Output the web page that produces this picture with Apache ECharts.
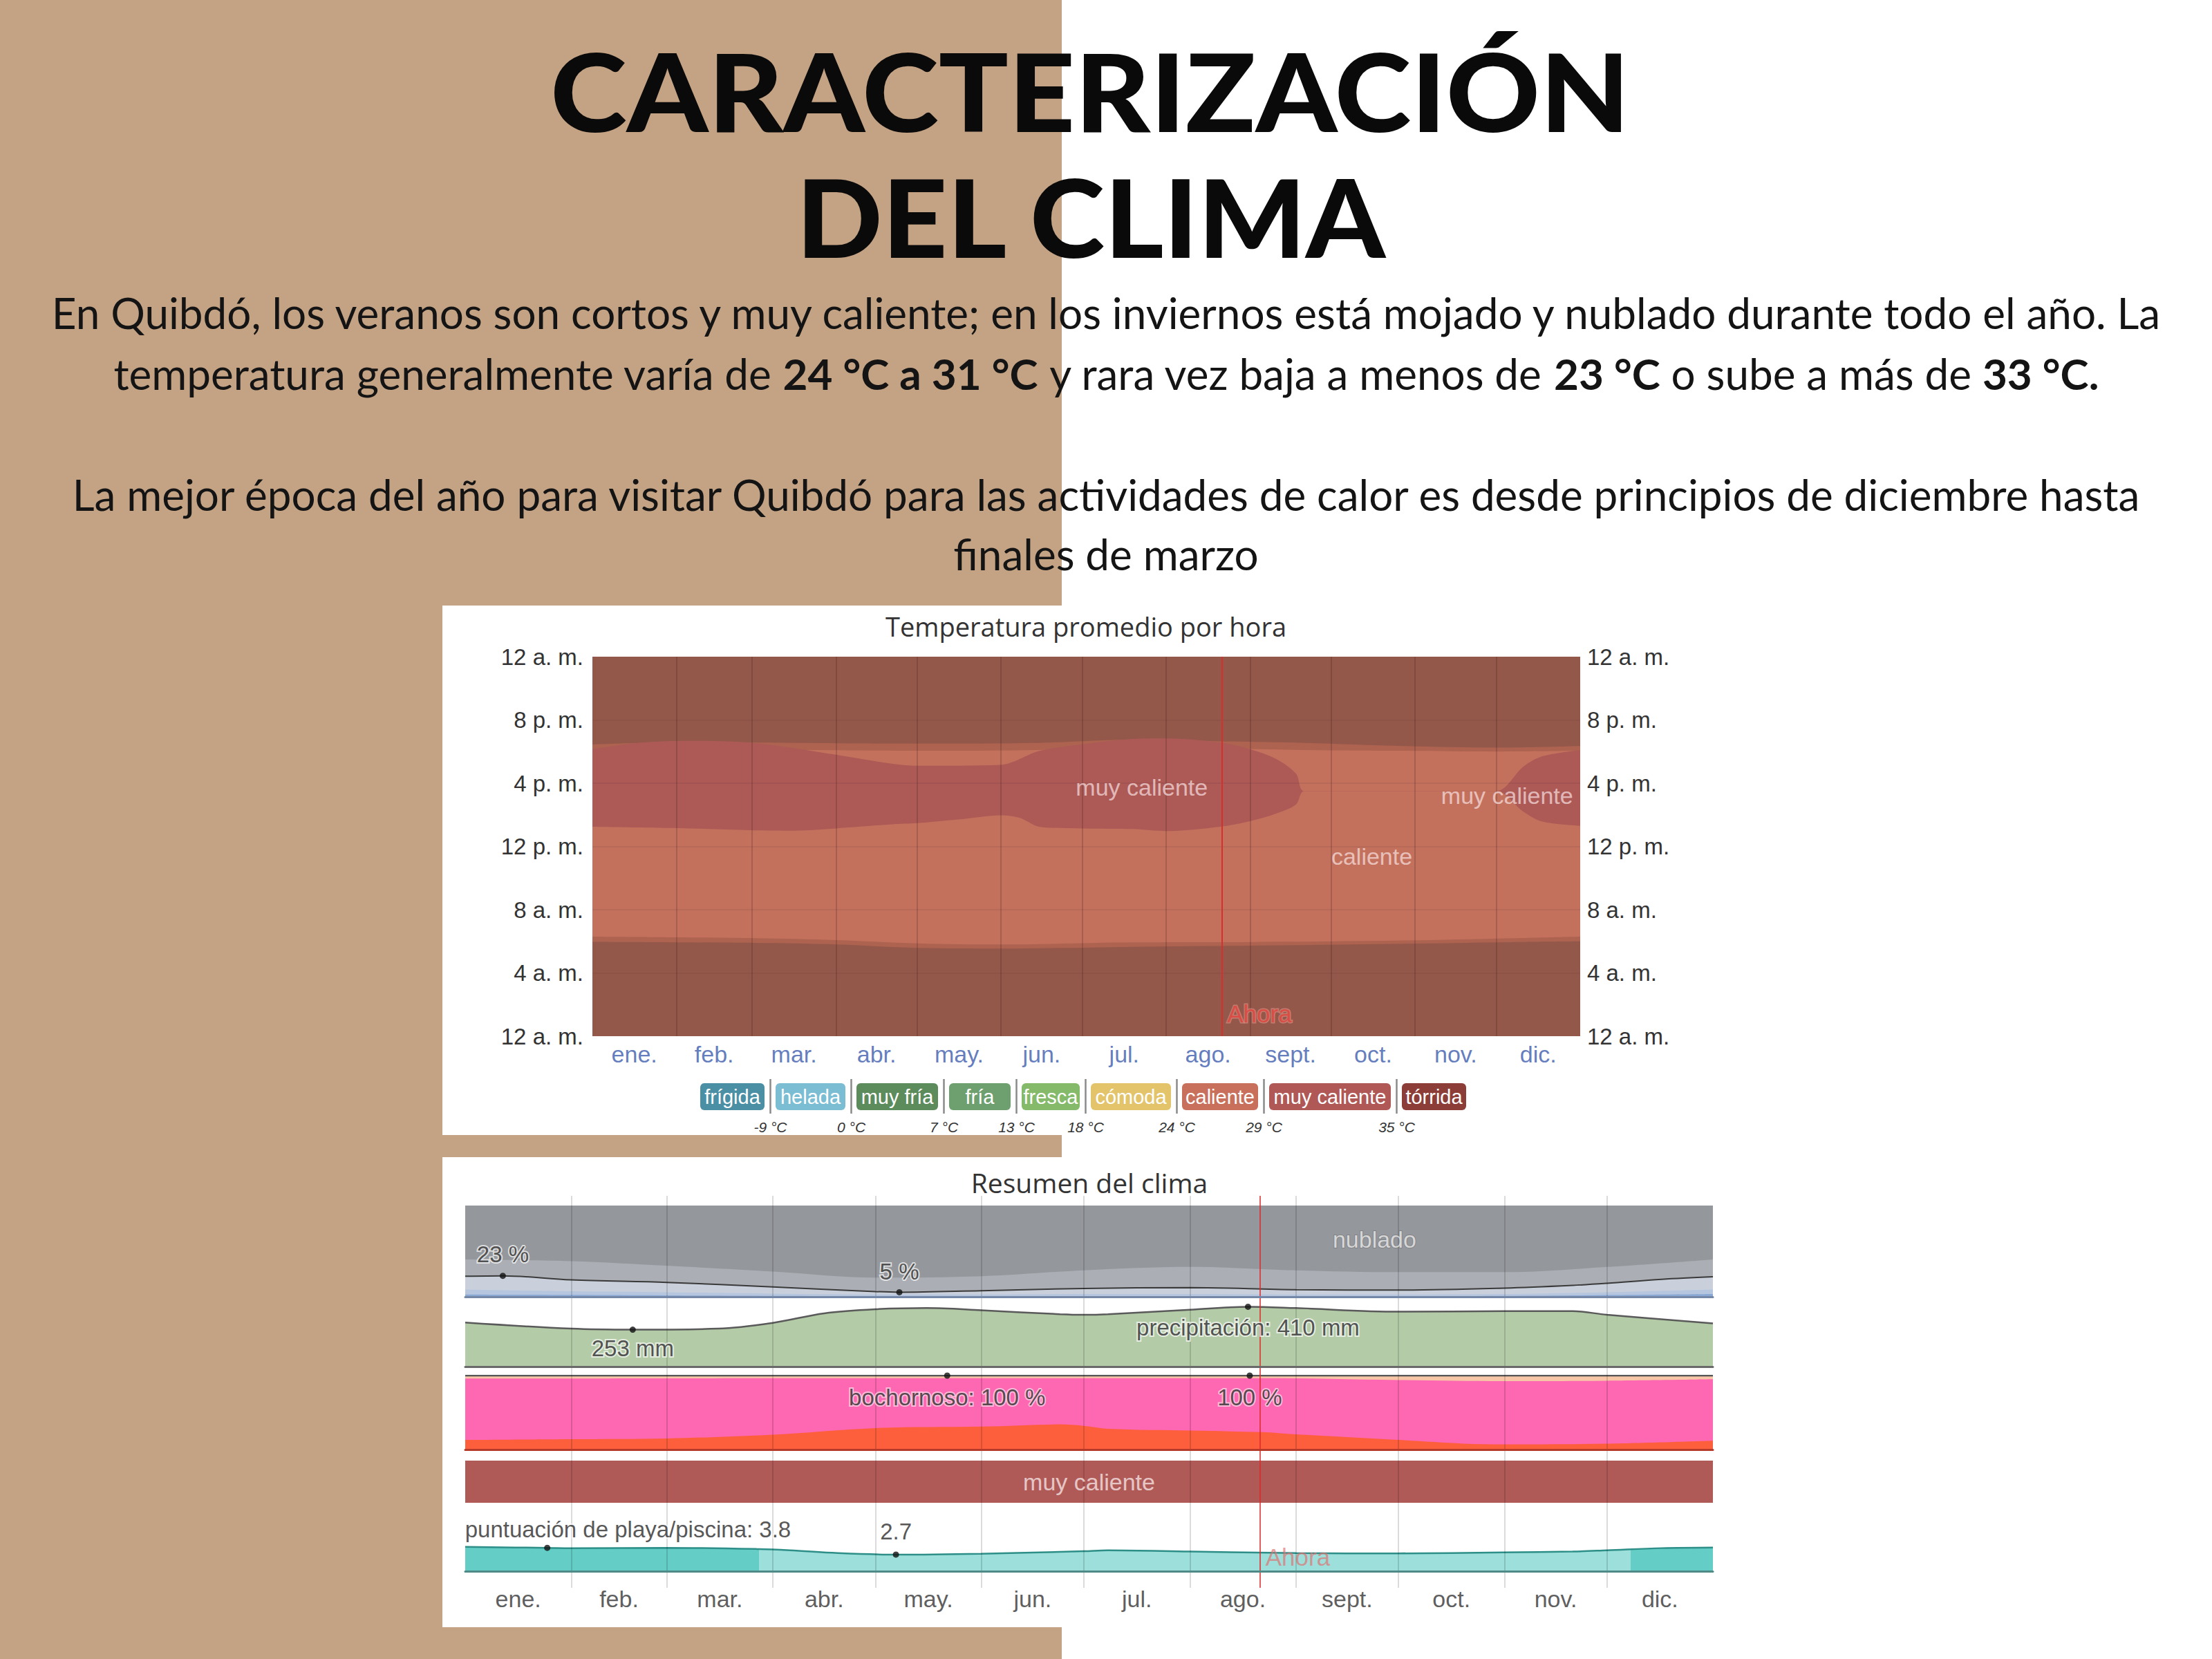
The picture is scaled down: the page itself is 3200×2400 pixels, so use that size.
<!DOCTYPE html>
<html><head><meta charset="utf-8">
<script src="https://cdn.jsdelivr.net/npm/echarts@6/dist/echarts.min.js"></script>
<style>html,body{margin:0;padding:0;background:#fff}#c{width:3200px;height:2400px}</style>
</head><body><div id="c"></div><script>
// ---------------- DATA ----------------
const months = ['ene.','feb.','mar.','abr.','may.','jun.','jul.','ago.','sept.','oct.','nov.','dic.'];
const monthStartDays = [0,31,59,90,120,151,181,212,243,273,304,334,365];
const hourLabels = ['12 a. m.','4 a. m.','8 a. m.','12 p. m.','4 p. m.','8 p. m.','12 a. m.'];
const nowDay = 232.5;

// Temperatura promedio por hora: band boundaries [day, hour]
const nightFull = [[0,24],[365,24]];
const duskEnd = [[0,18.45],[36,18.6],[75,18.55],[120,18.5],[165,18.55],[200,18.75],[232,18.65],[263,18.55],[300,18.35],[334,18.25],[365,18.35]];
const duskStart = [[0,18.1],[75,18.1],[120,18.05],[165,18.1],[200,18.3],[232,18.2],[263,18.1],[300,18.05],[334,18.0],[365,18.05]];
const hotTop = [[0,18.15],[18,18.57],[36,18.68],[58,18.57],[75,18.2],[90,17.8],[111,17.22],[120,17.1],[151,17.16],[165,18.03],[181,18.46],[200,18.8],[212,18.83],[232,18.57],[243,18.15],[253,17.5],[260,16.6],[263,15.5],[334,15.5],[344,17.05],[351,17.7],[365,18.1]];
const hotBottom = [[0,13.25],[18,13.2],[36,13.14],[58,13.03],[75,13.0],[90,13.14],[111,13.4],[120,13.47],[135,13.7],[151,13.97],[158,13.8],[165,13.25],[181,13.14],[200,13.1],[212,12.97],[232,13.25],[243,13.6],[253,14.1],[260,14.66],[263,15.5],[334,15.5],[344,14.2],[351,13.57],[365,13.3]];
const dawnEnd = [[0,6.3],[60,6.2],[90,6.08],[120,5.87],[150,5.8],[200,5.93],[240,5.95],[300,6.05],[340,6.2],[365,6.3]];
const dawnStart = [[0,5.97],[60,5.9],[90,5.8],[120,5.58],[150,5.54],[200,5.65],[240,5.72],[300,5.85],[340,5.95],[365,6.0]];
const tempChartNotes = [[203,15.74,'muy caliente'],[288,11.37,'caliente'],[338,15.2,'muy caliente']];

const legendNames = ['frígida','helada','muy fría','fría','fresca','cómoda','caliente','muy caliente','tórrida'];
const legendThresholds = ['-9 °C','0 °C','7 °C','13 °C','18 °C','24 °C','29 °C','35 °C'];

// Resumen del clima: cloud cover cumulative % [day, %]
const cloudOvercast = [[0,100],[365,100]];
const cloudMostlyCloudy = [[0,41],[31,39],[59,34],[90,27.6],[120,21],[151,22.6],[181,29],[212,32.7],[243,29],[273,27],[304,27],[334,32.7],[365,41]];
const cloudPartly = [[0,22.6],[11,23],[31,18.5],[59,15.8],[90,10.8],[120,5.7],[127,5],[151,6.7],[181,9.1],[212,10.1],[243,7.8],[273,7.4],[304,9.5],[324,12.5],[334,14.8],[350,19.2],[365,22]];
const cloudMostlyClear = [[0,8],[31,6],[59,5],[90,3.5],[120,2.5],[151,2.5],[181,3],[212,3],[243,2.5],[273,2.5],[304,3],[334,5],[365,8]];
const cloudClear = [[0,2.5],[31,2],[59,1.5],[90,1],[120,0.8],[151,0.8],[181,0.8],[212,0.8],[243,0.8],[273,0.8],[304,1],[334,1.8],[365,3]];
const cloudNotes = [[11,23,'23 %'],[127,5,'5 %']];
const cloudLabel = [[266,63,'nublado']];

// precipitation mm [day, mm]
const precip = [[0,302],[31,260],[49,253],[74,260],[90,300],[105,365],[120,393],[135,401],[151,386],[174,359],[181,355],[188,359],[212,390],[229,410],[243,401],[273,376],[304,380],[324,380],[334,355],[365,296]];
const precipNotes = [[49,253,'253 mm'],[229,410,'precipitación: 410 mm']];

// humidity cumulative % [day, %]
const humidMuggy = [[0,100],[365,100]];
const humidOppressive = [[0,96],[120,96.5],[233,96.5],[273,94],[304,92.5],[334,93],[365,95]];
const humidMiserable = [[0,13],[31,14],[59,15],[90,20],[120,29],[151,31],[174,34],[181,32],[188,28],[212,25.6],[233,23.5],[243,20.5],[273,13],[292,8],[304,7],[334,8],[365,12]];
const humidNotes = [[141,100,'bochornoso: 100 %'],[229.5,100,'100 %']];

// temperature category band
const tempBand = [[0,1],[365,1]];
const tempBandLabel = [[182.5,0.5,'muy caliente']];

// beach / pool score [day, score]
const beachScore = [[0,3.95],[24,3.8],[31,3.75],[59,3.8],[86,3.6],[95,3.4],[109,2.95],[126,2.7],[151,2.85],[181,3.25],[188,3.4],[212,3.2],[243,2.95],[273,2.9],[304,3.05],[324,3.2],[334,3.4],[350,3.75],[365,3.85]];
const bestPeriods = [[0,86],[341,365]];
const beachNotes = [[24,3.8,'puntuación de playa/piscina: 3.8'],[126,2.7,'2.7']];
const ahoraTempHour = 1.4;
const ahoraBeachScore = 2.25;

// ---------------- STYLE ----------------
const FONT = 'Liberation Sans, Arial, sans-serif';
const C = {
  night:'#94584a', twilight:'#ad6350', hot:'#c3715d', veryHot:'#ad5a57',
  overcast:'#94979c', mostlyCloudy:'#abaeb4', partly:'#c9d0db', mostlyClear:'#b6c6de', clear:'#8aa8d4',
  precip:'#b4cba8', muggy:'#f6c6a6', oppressive:'#fe67b1', miserable:'#fd5f3c', band:'#b05a58',
  beachDark:'#64cdc6', beachLight:'#9de0db'
};
const legendColors = ['#4b8fa5','#7bbdd2','#5c8b5c','#6e9f6e','#85ba6a','#e3c46b','#c9705c','#b05856','#8d3d37'];
const pillWidths = [93,101,118,89,84,116,110,176,93];

const grids = [
  {left:857, top:950, width:1429, height:549},
  {left:857, top:1505, width:1429, height:40},
  {left:673, top:1730, width:1805, height:567},
  {left:673, top:1744, width:1805, height:132},
  {left:673, top:1882, width:1805, height:95},
  {left:673, top:1990, width:1805, height:107},
  {left:673, top:2113, width:1805, height:61},
  {left:673, top:2184, width:1805, height:89},
  {left:673, top:2295, width:1805, height:36}
];
const yi = g => g === 0 ? 0 : g + 1;
const borderColors = {3:'#7487a6', 4:'#6a6a6a', 5:'#b63a2a', 7:'#4f8a86'};

const xAxis = grids.map((g,i)=>({
  type:'value', gridIndex:i, min:0, max:365, z:10,
  show: borderColors[i] !== undefined,
  axisLine:{show:true, onZero:false, lineStyle:{color:borderColors[i]||'#000', width:3}},
  axisLabel:{show:false}, axisTick:{show:false}, splitLine:{show:false}
}));
const hidY = (g,min,max)=>({type:'value', gridIndex:g, min, max, show:false, splitLine:{show:false}});
const yAxis = [
  {type:'value', gridIndex:0, min:0, max:24, interval:4, position:'left',
   axisLabel:{formatter:v=>hourLabels[Math.round(v/4)], fontSize:33, color:'#333', fontFamily:FONT, margin:13},
   axisLine:{show:false}, axisTick:{show:false}, splitLine:{show:false}},
  {type:'value', gridIndex:0, min:0, max:24, interval:4, position:'right',
   axisLabel:{formatter:v=>hourLabels[Math.round(v/4)], fontSize:33, color:'#333', fontFamily:FONT, margin:10},
   axisLine:{show:false}, axisTick:{show:false}, splitLine:{show:false}},
  hidY(1,0,1), hidY(2,0,1), hidY(3,0,100), hidY(4,0,450), hidY(5,0,100), hidY(6,0,1), hidY(7,0,10), hidY(8,0,1)
];

const series = [];
const area = (g, data, color, smooth=0.35) => series.push({type:'line', xAxisIndex:g, yAxisIndex:yi(g), data, smooth, symbol:'none', silent:true,
  lineStyle:{width:0}, areaStyle:{color, opacity:1, origin:'start'}, z:2});
const line = (g, data, color, width, smooth=0.35) => series.push({type:'line', xAxisIndex:g, yAxisIndex:yi(g), data, smooth, symbol:'none', silent:true,
  lineStyle:{width, color}, z:3});

// temperature heat bands
area(0, nightFull, C.night);
area(0, duskEnd, C.twilight);
area(0, duskStart, C.hot);
area(0, hotTop, C.veryHot, 0.3);
area(0, hotBottom, C.hot, 0.3);
area(0, dawnEnd, C.twilight);
area(0, dawnStart, C.night);

// clouds
area(3, cloudOvercast, C.overcast);
area(3, cloudMostlyCloudy, C.mostlyCloudy);
area(3, cloudPartly, C.partly);
area(3, cloudMostlyClear, C.mostlyClear);
area(3, cloudClear, C.clear);
line(3, cloudPartly, '#3a3a3a', 2);

// precipitation
area(4, precip, C.precip);
line(4, precip, '#5a5a5a', 2.5);

// humidity
area(5, humidMuggy, C.muggy);
area(5, humidOppressive, C.oppressive);
area(5, humidMiserable, C.miserable);
line(5, humidMuggy, '#555', 2.5);

// temp band
area(6, tempBand, C.band);

// beach
const stops = []; let cur = 0;
bestPeriods.forEach(([a,b])=>{
  if (a > cur) stops.push({offset:cur/365,color:C.beachLight},{offset:a/365,color:C.beachLight});
  stops.push({offset:a/365,color:C.beachDark},{offset:b/365,color:C.beachDark}); cur = b;
});
if (cur < 365) stops.push({offset:cur/365,color:C.beachLight},{offset:1,color:C.beachLight});
series.push({type:'line', xAxisIndex:7, yAxisIndex:yi(7), data:beachScore, smooth:0.35, symbol:'none', silent:true,
  lineStyle:{width:2.5, color:'#2d8f88'}, areaStyle:{opacity:1, origin:'start', color:{type:'linear', x:0, y:0, x2:1, y2:0, colorStops:stops}}, z:2});

// grid line overlays
const vLine = (d, color) => ({xAxis:d, lineStyle:{color, width:2, type:'solid'}});
series.push({type:'line', xAxisIndex:0, yAxisIndex:0, data:[], z:20, silent:true,
  markLine:{symbol:['none','none'], silent:true, animation:false, label:{show:false},
    data:[...monthStartDays.slice(1,12).map(d=>vLine(d,'rgba(50,20,20,0.2)')),
          ...[4,8,12,16,20].map(h=>({yAxis:h, lineStyle:{color:'rgba(50,20,20,0.08)', width:2, type:'solid'}})),
          vLine(nowDay,'#d6302c')]}});
// small ticks under temperature plot
series.push({type:'line', xAxisIndex:1, yAxisIndex:yi(1), data:[], z:20, silent:true,
  markLine:{symbol:['none','none'], silent:true, animation:false, label:{show:false},
    data: monthStartDays.slice(1,12).map(d=>[{coord:[d,1.15]},{coord:[d,0.78], lineStyle:{color:'rgba(0,0,0,0.12)', width:2, type:'solid'}}])}});
series.push({type:'line', xAxisIndex:2, yAxisIndex:yi(2), data:[], z:20, silent:true,
  markLine:{symbol:['none','none'], silent:true, animation:false, label:{show:false},
    data:[...monthStartDays.slice(1,12).map(d=>vLine(d,'rgba(0,0,0,0.14)')), vLine(nowDay,'rgba(220,40,40,0.75)')]}});

// text notes via scatter
const notes = (g, arr, label, dot, itemLabels) => series.push({type:'scatter', xAxisIndex:g, yAxisIndex:yi(g), z:30, silent:true, clip:false,
  symbol:'circle', symbolSize: dot ? 9 : 1, itemStyle:{color: dot ? '#111' : 'rgba(0,0,0,0)'},
  data: arr.map((n,i)=>Object.assign({value:[n[0],n[1]], name:n[2]}, itemLabels ? {label:itemLabels[i]} : {})),
  label: Object.assign({show:true, formatter:'{b}', position:'inside', fontFamily:FONT, fontSize:33}, label)});

const midDays = months.map((m,i)=>[(monthStartDays[i]+monthStartDays[i+1])/2, 0.5, m]);
notes(1, midDays, {color:'#3a5aad', fontSize:34});
notes(8, midDays, {color:'#333', fontSize:34});
notes(0, tempChartNotes, {color:'rgba(250,228,228,0.88)', fontSize:34});
notes(0, [[nowDay, ahoraTempHour, 'Ahora']], {color:'#e0413a', fontSize:35, align:'left', offset:[8,0], textBorderColor:'rgba(255,170,160,0.55)', textBorderWidth:3});
notes(7, [[nowDay, ahoraBeachScore, 'Ahora']], {color:'rgba(225,110,110,0.85)', fontSize:35, align:'left', offset:[8,0]});
const halo = {color:'#2a2a2a', textBorderColor:'rgba(255,255,255,0.85)', textBorderWidth:4};
notes(3, cloudNotes, halo, true, [{offset:[0,-31]},{offset:[0,-30]}]);
notes(3, cloudLabel, {color:'#ececec', fontSize:34, textBorderColor:'rgba(100,100,100,0.5)', textBorderWidth:2});
notes(4, precipNotes, halo, true, [{offset:[0,27]},{offset:[0,30]}]);
notes(5, humidNotes, {color:'#2a2a2a', textBorderColor:'rgba(255,220,235,0.9)', textBorderWidth:4}, true, [{offset:[0,31]},{offset:[0,31]}]);
notes(6, tempBandLabel, {color:'#f6e4e4', fontSize:34});
notes(7, beachNotes, halo, true, [{offset:[-119,-27], align:'left'},{offset:[0,-33]}]);

// ---------------- GRAPHICS (background + text) ----------------
const T = (x,y,text,style,extra) => Object.assign({type:'text', x, y, z:50, silent:true,
  style:Object.assign({text, fill:'#111', align:'center', verticalAlign:'middle'}, style)}, extra||{});
const P = {fontFamily:'Lato', fontSize:62, fontWeight:'normal', fill:'#141414'};
const B = {fontFamily:'Lato', fontSize:62, fontWeight:'bold', fill:'#141414'};
const H = {fontFamily:'Lato', fontSize:156, fontWeight:900, fill:'#0a0a0a'};
const elements = [
  {type:'rect', z:0, silent:true, shape:{x:0,y:0,width:1536,height:2400}, style:{fill:'#c4a385'}},
  {type:'rect', z:0, silent:true, shape:{x:640,y:876,width:900,height:766}, style:{fill:'#ffffff'}},
  {type:'rect', z:0, silent:true, shape:{x:640,y:1674,width:900,height:680}, style:{fill:'#ffffff'}},
  T(1577,130,'CARACTERIZACIÓN',H,{scaleX:1.075}),
  T(1578,313,'DEL CLIMA',H,{scaleX:1.05}),
  T(1600,452,'En Quibdó, los veranos son cortos y muy caliente; en los inviernos está mojado y nublado durante todo el año. La',P),
  T(1600,540,'temperatura generalmente varía de {b|24 °C a 31 °C} y rara vez baja a menos de {b|23 °C} o sube a más de {b|33 °C.}',Object.assign({rich:{b:B}},P)),
  T(1600,715,'La mejor época del año para visitar Quibdó para las actividades de calor es desde principios de diciembre hasta',P),
  T(1600,801,'finales de marzo',P),
  T(1571,906,'Temperatura promedio por hora',{fontFamily:'Open Sans', fontSize:38, fill:'#333'}),
  T(1576,1710,'Resumen del clima',{fontFamily:'Open Sans', fontSize:39, fill:'#333'})
];
let lx = 1013;
legendNames.forEach((n,i)=>{
  const w = pillWidths[i];
  elements.push({type:'rect', z:40, silent:true, shape:{x:lx, y:1567, width:w, height:39, r:6}, style:{fill:legendColors[i]}});
  elements.push(T(lx+w/2, 1587, n, {fontFamily:"'Liberation Sans Narrow', 'Liberation Sans', sans-serif", fontSize:29, fill:'#fff'}));
  if (i < legendThresholds.length) {
    const sx = lx + w + 8.5;
    elements.push({type:'rect', z:40, silent:true, shape:{x:sx-1.25, y:1561, width:2.5, height:50}, style:{fill:'#8a8a8a'}});
    elements.push(T(sx, 1630, legendThresholds[i], {fontFamily:FONT, fontSize:21, fontStyle:'italic', fill:'#333'}));
  }
  lx += w + 16;
});

const chart = echarts.init(document.getElementById('c'), null, {renderer:'svg', width:3200, height:2400});
chart.setOption({
  backgroundColor:'#ffffff', animation:false,
  grid: grids.map(g=>Object.assign({containLabel:false, show:false}, g)),
  xAxis, yAxis, series,
  graphic:{elements}
});
</script></body></html>
